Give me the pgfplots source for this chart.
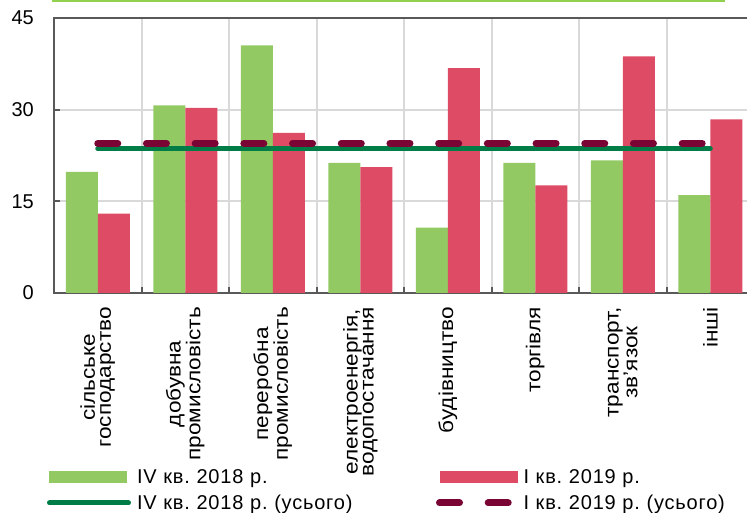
\documentclass[border=0pt]{standalone}
\usepackage{fontspec}
\setmainfont{Liberation Sans}
\newfontfamily\lblfont{Liberation Sans}[FakeStretch=1.13]
\newfontfamily\legfont{Liberation Sans}[LetterSpace=4]
\usepackage{pgfplots}
\pgfplotsset{compat=1.18}
\frenchspacing
\definecolor{barG}{RGB}{146,201,99}
\definecolor{barR}{RGB}{221,75,101}
\definecolor{lineG}{RGB}{0,125,70}
\definecolor{lineR}{RGB}{122,4,52}
\definecolor{topG}{RGB}{146,208,80}
\definecolor{axisC}{RGB}{89,89,89}
\definecolor{gridC}{RGB}{217,217,217}
\begin{document}
\frenchspacing
\begin{tikzpicture}
\path[use as bounding box] (0,0) rectangle (747pt,513pt);
\clip (0,0) rectangle (747pt,513pt);
\draw[topG, line width=2pt] (52pt,511.5pt) -- (725pt,511.5pt);
\begin{axis}[
  at={(54pt,220pt)}, anchor=south west,
  scale only axis, width=700pt, height=275pt,
  xmin=-0.5, xmax=7.5, ymin=0, ymax=45,
  xtick={-0.5,0.5,...,7.5},
  x tick label as interval,
  xticklabels={{сільське\\господарство},{добувна\\промисловість},{переробна\\промисловість},{електроенергія,\\водопостачання},{будівництво},{торгівля},{транспорт,\\зв’язок},{інші}},
  ytick={0,15,30,45},
  grid=major,
  major grid style={gridC, line width=2pt},
  axis line style={axisC, line width=2pt},
  tick style={axisC, line width=2pt},
  tick align=inside, major tick length=6pt,
  tick pos=left,
  yticklabel style={font=\fontsize{20}{16}\selectfont, inner sep=0pt, xshift=-20pt},
  /pgf/number format/assume math mode=true,
  xticklabel style={font=\lblfont\fontsize{20}{16}\selectfont, rotate=90, anchor=east, align=center, inner xsep=14pt, inner ysep=0pt},
  legend columns=2, legend cell align=left,
  legend style={at={(axis description cs:-0.01,-0.6327)}, anchor=north west,
    draw=none, fill=none, inner sep=0pt, outer sep=0pt, row sep=6pt,
    font=\legfont\fontsize{20}{24}\selectfont\frenchspacing,
    nodes={inner sep=0pt, text width=299pt, align=left, text height=17pt, text depth=3pt},
    /tikz/every odd column/.append style={column sep=6pt},
    /tikz/every even column/.append style={column sep=0pt}},
]
\addplot[ybar, bar width=32pt, bar shift=-16pt, fill=barG, draw=none,
  legend image code/.code={\fill[barG] (0pt,-6pt) rectangle (78pt,6pt);}]
  coordinates {(0,19.8) (1,30.7) (2,40.5) (3,21.3) (4,10.7) (5,21.3) (6,21.7) (7,16.0)};
\addplot[ybar, bar width=32pt, bar shift=16pt, fill=barR, draw=none,
  legend image code/.code={\fill[barR] (0pt,-6pt) rectangle (78pt,6pt);}]
  coordinates {(0,13.0) (1,30.3) (2,26.2) (3,20.6) (4,36.8) (5,17.6) (6,38.7) (7,28.4)};
\addplot[lineG, line width=5pt, line cap=round, mark=none,
  legend image code/.code={\draw[lineG, line width=5pt, line cap=round] (1pt,0pt) -- (80pt,0pt);}]
  coordinates {(0,23.6) (7,23.6)};
\addplot[lineR, line width=7pt, line cap=round, dash pattern=on 20pt off 28.7pt, mark=none,
  legend image code/.code={\draw[lineR, line width=7pt, line cap=round, dash pattern=on 20pt off 28.7pt] (0pt,0pt) -- (70pt,0pt);}]
  coordinates {(0,24.5) (7,24.5)};
\legend{IV кв. 2018 р., I кв. 2019 р., IV кв. 2018 р. (усього), I кв. 2019 р. (усього)}
\end{axis}
\end{tikzpicture}
\end{document}
